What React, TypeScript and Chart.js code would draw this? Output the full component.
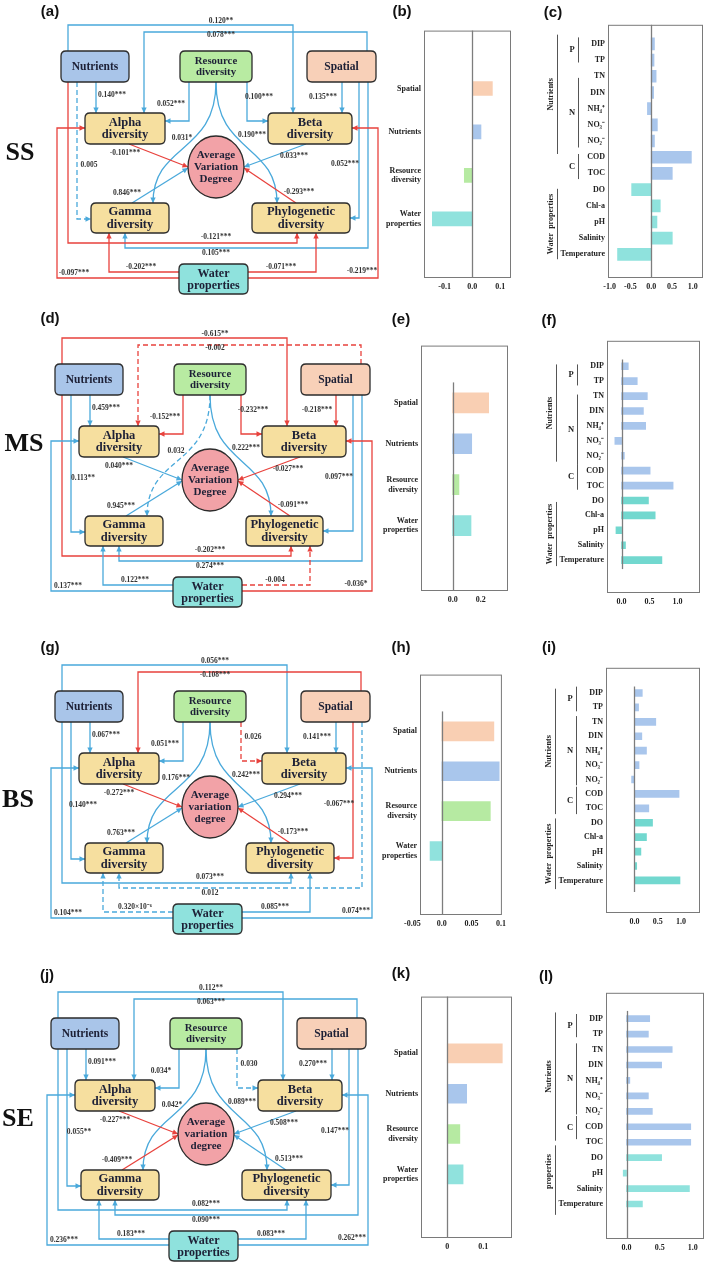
import React, { useEffect, useRef } from 'react';
import { Chart, registerables } from 'chart.js';

Chart.register(...registerables);

const SERIF = '"Liberation Serif", "Times New Roman", serif';
const SANS = '"Liberation Sans", Arial, sans-serif';
const BLUE = '#4aa9db';
const RED = '#e8423d';

// ---------------- Data: driver importance (b, e, h, k) ----------------
const DRIVERS = [['Spatial'], ['Nutrients'], ['Resource', 'diversity'], ['Water', 'properties']];
const DRIVER_COLORS = ['#f9cfb3', '#a9c6ec', '#b6eaa2', '#90e2dd'];
const SS_DRIVER = [0.072, 0.031, -0.029, -0.144];
const MS_DRIVER = [0.257, 0.136, 0.045, 0.131];
const BS_DRIVER = [0.088, 0.097, 0.082, -0.02];
const SE_DRIVER = [0.153, 0.054, 0.035, 0.044];
const SS_DRIVER_TICKS = [-0.1, 0, 0.1];
const SS_DRIVER_TICK_LABELS = ['-0.1', '0.0', '0.1'];
const MS_DRIVER_TICKS = [0, 0.2];
const MS_DRIVER_TICK_LABELS = ['0.0', '0.2'];
const BS_DRIVER_TICKS = [-0.05, 0, 0.05, 0.1];
const BS_DRIVER_TICK_LABELS = ['-0.05', '0.0', '0.05', '0.1'];
const SE_DRIVER_TICKS = [0, 0.1];
const SE_DRIVER_TICK_LABELS = ['0', '0.1'];

// ---------------- Data: environmental factors (c, f, i, l) ----------------
const FACTORS = ['DIP', 'TP', 'TN', 'DIN', 'NH₄⁺', 'NO₃⁻', 'NO₂⁻', 'COD', 'TOC', 'DO', 'Chl-a', 'pH', 'Salinity', 'Temperature'];
const FACTORS_SE = ['DIP', 'TP', 'TN', 'DIN', 'NH₄⁺', 'NO₃⁻', 'NO₂⁻', 'COD', 'TOC', 'DO', 'pH', 'Salinity', 'Temperature'];
const SS_FACTOR = [0.08, 0.07, 0.12, 0.06, -0.09, 0.15, 0.08, 0.97, 0.51, -0.47, 0.22, 0.14, 0.51, -0.81];
const MS_FACTOR = [0.12, 0.28, 0.46, 0.39, 0.43, -0.12, 0.05, 0.51, 0.92, 0.48, 0.6, -0.1, 0.07, 0.72];
const BS_FACTOR = [0.17, 0.09, 0.46, 0.16, 0.26, 0.1, -0.06, 0.96, 0.31, 0.39, 0.26, 0.14, 0.05, 0.98];
const SE_FACTOR = [0.35, 0.33, 0.69, 0.53, 0.05, 0.33, 0.39, 0.97, 0.97, 0.53, -0.05, 0.95, 0.24];
const FACTOR_TICKS_WIDE = [-1, -0.5, 0, 0.5, 1];
const FACTOR_TICK_LABELS_WIDE = ['-1.0', '-0.5', '0.0', '0.5', '1.0'];
const FACTOR_TICKS = [0, 0.5, 1];
const FACTOR_TICK_LABELS = ['0.0', '0.5', '1.0'];

// ---------------- Data: path coefficients (a, d, g, j) ----------------
const PATH_KEYS = ['NB', 'SA', 'NA', 'NG', 'RA', 'RB', 'RG', 'RP', 'AV', 'BV', 'GV', 'PV', 'SB', 'SP', 'SG', 'NP', 'WA', 'WG', 'WP', 'WB'];
const SS_COEF = ['0.120**', '0.078***', '0.140***', '0.005', '0.052***', '0.100***', '0.031*', '0.190***', '-0.101***', '0.033***', '0.846***', '-0.293***', '0.135***', '0.052***', '0.105***', '-0.121***', '-0.097***', '-0.202***', '-0.071***', '-0.219***'];
const SS_COLOR = ['b', 'b', 'b', 'b', 'b', 'b', 'b', 'b', 'r', 'b', 'b', 'r', 'b', 'b', 'b', 'r', 'r', 'r', 'r', 'r'];
const SS_DASHED = [0, 0, 0, 1, 0, 0, 0, 0, 0, 0, 0, 0, 0, 0, 0, 0, 0, 0, 0, 0];
const MS_COEF = ['-0.615**', '-0.002', '0.459***', '0.113**', '-0.152***', '-0.232***', '0.032', '0.222***', '0.040***', '-0.027***', '0.945***', '-0.091***', '-0.218***', '0.097***', '0.274***', '-0.202***', '0.137***', '0.122***', '-0.004', '-0.036*'];
const MS_COLOR = ['r', 'r', 'b', 'b', 'r', 'r', 'b', 'b', 'b', 'r', 'b', 'r', 'r', 'b', 'b', 'r', 'b', 'b', 'r', 'r'];
const MS_DASHED = [0, 1, 0, 0, 0, 0, 1, 0, 0, 0, 0, 0, 0, 0, 0, 0, 0, 0, 1, 0];
const BS_COEF = ['0.056***', '-0.108***', '0.067***', '0.140***', '0.051***', '0.026', '0.176***', '0.242***', '-0.272***', '0.294***', '0.763***', '-0.173***', '0.141***', '-0.067***', '0.012', '0.073***', '0.104***', '0.320×10⁻⁶', '0.085***', '0.074***'];
const BS_COLOR = ['b', 'r', 'b', 'b', 'b', 'r', 'b', 'b', 'r', 'b', 'b', 'r', 'b', 'r', 'b', 'b', 'b', 'b', 'b', 'b'];
const BS_DASHED = [0, 0, 0, 0, 0, 1, 0, 0, 0, 0, 0, 0, 0, 0, 1, 0, 0, 1, 0, 0];
const SE_COEF = ['0.112**', '0.063***', '0.091***', '0.055**', '0.034*', '0.030', '0.042*', '0.089***', '-0.227***', '0.508***', '-0.409***', '0.513***', '0.270***', '0.147***', '0.090***', '0.082***', '0.236***', '0.183***', '0.083***', '0.262***'];
const SE_COLOR = ['b', 'b', 'b', 'b', 'b', 'b', 'b', 'b', 'r', 'b', 'r', 'b', 'b', 'b', 'b', 'b', 'b', 'b', 'b', 'b'];
const SE_DASHED = [0, 0, 0, 0, 0, 1, 0, 0, 0, 0, 0, 0, 0, 0, 0, 0, 0, 0, 0, 0];

// ---------------- Layout of the path diagrams (relative to Nutrients box) ----------------
const makeRoutes = (pr: number): any => ({
  NB: { pts: [[7, 0], [7, -26], [232, -26], [232, 62]] },
  SA: { pts: [[306, 0], [306, -19], [83, -19], [83, 62]] },
  NA: { pts: [[35, 31], [35, 62]] },
  NG: { pts: [[16, 31], [16, 168], [30, 168]] },
  RA: { pts: [[128, 31], [128, 70], [104, 70]] },
  RB: { pts: [[186, 31], [186, 70], [207, 70]] },
  RG: { curve: [[155, 31], [92, 152]] },
  RP: { curve: [[155, 31], [216, 152]] },
  AV: { pts: [[68, 93], [127, 116]] },
  BV: { pts: [[245, 93], [183, 116]] },
  GV: { pts: [[71, 152], [127, 117]] },
  PV: { pts: [[235, 152], [183, 117]] },
  SB: { pts: [[281, 31], [281, 62]] },
  SP: { pts: [[298, 31], [298, 167], [pr, 167]] },
  SG: { pts: [[307, 31], [307, 197], [64, 197], [64, 182]] },
  NP: { pts: [[7, 31], [7, 192], [236, 192], [236, 182]] },
  WA: { pts: [[118, 227], [-4, 227], [-4, 77], [24, 77]] },
  WG: { pts: [[118, 221], [48, 221], [48, 182]] },
  WP: { pts: [[187, 221], [255, 221], [255, 182]] },
  WB: { pts: [[187, 227], [317, 227], [317, 77], [291, 77]] },
});
const LABEL_POS: any = {
  NB: [160, -30], SA: [160, -16], NA: [51, 44], NG: [28, 114], RA: [110, 53], RB: [198, 46],
  RG: [121, 87], RP: [191, 84], AV: [64, 102], BV: [233, 105], GV: [66, 142], PV: [238, 141],
  SB: [262, 46], SP: [284, 113], SG: [155, 202], NP: [155, 186], WA: [13, 222], WG: [80, 216],
  WP: [220, 216], WB: [301, 220],
};

const DIAGRAMS = [
  { top: 0, height: 310, ox: 61, oy: 51, phyloW: 98, coef: SS_COEF, color: SS_COLOR, dashed: SS_DASHED, avd: ['Average', 'Variation', 'Degree'] },
  { top: 310, height: 310, ox: 55, oy: 364, phyloW: 77, coef: MS_COEF, color: MS_COLOR, dashed: MS_DASHED, avd: ['Average', 'Variation', 'Degree'] },
  { top: 620, height: 320, ox: 55, oy: 691, phyloW: 88, coef: BS_COEF, color: BS_COLOR, dashed: BS_DASHED, avd: ['Average', 'variation', 'degree'] },
  { top: 940, height: 323, ox: 51, oy: 1018, phyloW: 89, coef: SE_COEF, color: SE_COLOR, dashed: SE_DASHED, avd: ['Average', 'variation', 'degree'] },
];

function roundRect(ctx: any, x: number, y: number, w: number, h: number, r: number) {
  ctx.beginPath();
  ctx.moveTo(x + r, y);
  ctx.lineTo(x + w - r, y);
  ctx.quadraticCurveTo(x + w, y, x + w, y + r);
  ctx.lineTo(x + w, y + h - r);
  ctx.quadraticCurveTo(x + w, y + h, x + w - r, y + h);
  ctx.lineTo(x + r, y + h);
  ctx.quadraticCurveTo(x, y + h, x, y + h - r);
  ctx.lineTo(x, y + r);
  ctx.quadraticCurveTo(x, y, x + r, y);
  ctx.closePath();
}

function arrowHead(ctx: any, fx: number, fy: number, tx: number, ty: number) {
  const ang = Math.atan2(ty - fy, tx - fx);
  const len = 5.5, w = 2.7;
  const c = Math.cos(ang), s = Math.sin(ang);
  ctx.beginPath();
  ctx.moveTo(tx, ty);
  ctx.lineTo(tx - len * c + w * s, ty - len * s - w * c);
  ctx.lineTo(tx - len * c - w * s, ty - len * s + w * c);
  ctx.closePath();
  ctx.fill();
}

function diagramPlugin(d: any) {
  return {
    id: 'pathDiagram',
    afterDraw(chart: any) {
      const ctx = chart.ctx;
      const sx = chart.scales.x, sy = chart.scales.y;
      const X = (v: number) => sx.getPixelForValue(d.ox + v);
      const Y = (v: number) => sy.getPixelForValue(d.oy + v);
      const routes = makeRoutes(191 + d.phyloW);
      ctx.save();
      // edges
      PATH_KEYS.forEach((k, i) => {
        const col = d.color[i] === 'r' ? RED : BLUE;
        ctx.strokeStyle = col;
        ctx.fillStyle = col;
        ctx.lineWidth = 1.3;
        ctx.setLineDash(d.dashed[i] ? [5, 3] : []);
        const r = routes[k];
        let fx = 0, fy = 0, tx = 0, ty = 0;
        ctx.beginPath();
        if (r.curve) {
          const [s, e] = r.curve;
          const dy = e[1] - s[1];
          const c1 = [s[0], s[1] + 0.6 * dy];
          const c2 = [e[0], e[1] - 0.5 * dy];
          ctx.moveTo(X(s[0]), Y(s[1]));
          ctx.bezierCurveTo(X(c1[0]), Y(c1[1]), X(c2[0]), Y(c2[1]), X(e[0]), Y(e[1]));
          fx = X(c2[0]); fy = Y(c2[1]); tx = X(e[0]); ty = Y(e[1]);
        } else {
          const pts = r.pts;
          pts.forEach((p: number[], j: number) => {
            if (j === 0) ctx.moveTo(X(p[0]), Y(p[1]));
            else ctx.lineTo(X(p[0]), Y(p[1]));
          });
          const a = pts[pts.length - 2], b = pts[pts.length - 1];
          fx = X(a[0]); fy = Y(a[1]); tx = X(b[0]); ty = Y(b[1]);
        }
        ctx.stroke();
        ctx.setLineDash([]);
        arrowHead(ctx, fx, fy, tx, ty);
      });
      // nodes
      const nodes = [
        { box: [0, 0, 68, 31], fill: '#a9c5e9', lines: ['Nutrients'], size: 11.5 },
        { box: [119, 0, 72, 31], fill: '#b8eba2', lines: ['Resource', 'diversity'], size: 10.8 },
        { box: [246, 0, 69, 31], fill: '#f8d0b8', lines: ['Spatial'], size: 11.5 },
        { box: [24, 62, 80, 31], fill: '#f6df9f', lines: ['Alpha', 'diversity'], size: 12.5 },
        { box: [207, 62, 84, 31], fill: '#f6df9f', lines: ['Beta', 'diversity'], size: 12.5 },
        { box: [30, 152, 78, 30], fill: '#f6df9f', lines: ['Gamma', 'diversity'], size: 12.5 },
        { box: [191, 152, d.phyloW, 30], fill: '#f6df9f', lines: ['Phylogenetic', 'diversity'], size: 12.5 },
        { box: [118, 213, 69, 30], fill: '#8fe2dd', lines: ['Water', 'properties'], size: 12 },
      ];
      ctx.textAlign = 'center';
      ctx.textBaseline = 'middle';
      nodes.forEach((n) => {
        const [bx, by, bw, bh] = n.box;
        roundRect(ctx, X(bx), Y(by), bw, bh, 5);
        ctx.fillStyle = n.fill;
        ctx.fill();
        ctx.strokeStyle = '#2b2b2b';
        ctx.lineWidth = 1.3;
        ctx.stroke();
        ctx.fillStyle = '#1d2036';
        ctx.font = `bold ${n.size}px ${SERIF}`;
        const lh = n.size * 1.0;
        const cx = X(bx + bw / 2), cy = Y(by + bh / 2);
        n.lines.forEach((l, j) => ctx.fillText(l, cx, cy + (j - (n.lines.length - 1) / 2) * lh + 0.5));
      });
      // AVD ellipse
      ctx.beginPath();
      ctx.ellipse(X(155), Y(116), 28, 31, 0, 0, Math.PI * 2);
      ctx.fillStyle = '#f2a2a7';
      ctx.fill();
      ctx.strokeStyle = '#2b2b2b';
      ctx.lineWidth = 1.3;
      ctx.stroke();
      ctx.fillStyle = '#1d2036';
      ctx.font = `bold 11px ${SERIF}`;
      d.avd.forEach((l: string, j: number) => ctx.fillText(l, X(155), Y(116) + (j - 1) * 12 + 0.5));
      // coefficient labels
      ctx.font = `bold 7.5px ${SERIF}`;
      ctx.fillStyle = '#333';
      PATH_KEYS.forEach((k, i) => {
        const p = LABEL_POS[k];
        ctx.fillText(d.coef[i], X(p[0]), Y(p[1]));
      });
      ctx.restore();
    },
  };
}

function diagramConfig(d: any) {
  return {
    type: 'scatter',
    data: { datasets: [{ data: [] }] },
    options: {
      animation: false,
      responsive: false,
      layout: { padding: 0 },
      plugins: { legend: { display: false }, tooltip: { enabled: false } },
      scales: {
        x: { type: 'linear', display: false, min: 0, max: 400 },
        y: { type: 'linear', display: false, min: d.top, max: d.top + d.height, reverse: true },
      },
    },
    plugins: [diagramPlugin(d)],
  };
}

// ---------------- Bar charts ----------------
const NUT_BLUE = '#a9c6ec';
const factorColors = (n: number, water: string) => Array.from({ length: n }, (_, i) => (i < 9 ? NUT_BLUE : water));

const BARS: any[] = [
  { labels: DRIVERS, values: SS_DRIVER, colors: DRIVER_COLORS, ticks: SS_DRIVER_TICKS, tickLabels: SS_DRIVER_TICK_LABELS,
    xMin: -0.174, xMax: 0.139, yMin: -0.62, yMax: 3.65, bar: 14, plot: [424, 22, 511, 278], canvasLeft: 380, zero: [-99, 99] },
  { labels: DRIVERS, values: MS_DRIVER, colors: DRIVER_COLORS, ticks: MS_DRIVER_TICKS, tickLabels: MS_DRIVER_TICK_LABELS,
    xMin: -0.226, xMax: 0.395, yMin: -0.65, yMax: 3.85, bar: 20, plot: [421, 337, 508, 591], canvasLeft: 380, zero: [-0.5, 99] },
  { labels: DRIVERS, values: BS_DRIVER, colors: DRIVER_COLORS, ticks: BS_DRIVER_TICKS, tickLabels: BS_DRIVER_TICK_LABELS,
    xMin: -0.037, xMax: 0.1016, yMin: -0.67, yMax: 3.85, bar: 19, plot: [420, 666, 507, 915], canvasLeft: 380, zero: [-0.5, 99] },
  { labels: DRIVERS, values: SE_DRIVER, colors: DRIVER_COLORS, ticks: SE_DRIVER_TICKS, tickLabels: SE_DRIVER_TICK_LABELS,
    xMin: -0.073, xMax: 0.18, yMin: -0.66, yMax: 3.83, bar: 19, plot: [421, 988, 512, 1238], canvasLeft: 380, zero: [-99, 99] },
  { labels: FACTORS, values: SS_FACTOR, colors: factorColors(14, '#8fe2dd'), ticks: FACTOR_TICKS_WIDE, tickLabels: FACTOR_TICK_LABELS_WIDE,
    xMin: -1.04, xMax: 1.25, yMin: -0.62, yMax: 13.9, bar: 12, plot: [608, 21, 703, 278], canvasLeft: 535, zero: [-99, 99],
    groups: { nutr: [-0.57, 6.8], water: [8.95, 13.3], P: [-0.4, 1.15], N: [2.1, 6.4], C: [6.8, 8.35], waterText: 'Water  properties' } },
  { labels: FACTORS, values: MS_FACTOR, colors: factorColors(14, '#72d8cf'), ticks: FACTOR_TICKS, tickLabels: FACTOR_TICK_LABELS,
    xMin: -0.26, xMax: 1.4, yMin: -1.1, yMax: 14.6, bar: 7, plot: [607, 337, 700, 593], canvasLeft: 535, zero: [-0.45, 13.6],
    groups: { nutr: [-0.12, 6.4], water: [9.1, 13.4], P: [-0.12, 1.29], N: [1.9, 6.56], C: [6.56, 8.28], waterText: 'Water  properties' } },
  { labels: FACTORS, values: BS_FACTOR, colors: factorColors(14, '#72d8cf'), ticks: FACTOR_TICKS, tickLabels: FACTOR_TICK_LABELS,
    xMin: -0.61, xMax: 1.41, yMin: -1.14, yMax: 14.65, bar: 7, plot: [606, 664, 700, 913], canvasLeft: 535, zero: [-0.45, 13.8],
    groups: { nutr: [-0.3, 8.4], water: [8.7, 13.6], P: [-0.44, 1.27], N: [1.6, 6.4], C: [6.5, 8.4], waterText: 'Water  properties' } },
  { labels: FACTORS_SE, values: SE_FACTOR, colors: factorColors(13, '#8fe2dd'), ticks: FACTOR_TICKS, tickLabels: FACTOR_TICK_LABELS,
    xMin: -0.31, xMax: 1.17, yMin: -1.06, yMax: 13.65, bar: 6, plot: [606, 989, 704, 1239], canvasLeft: 535, zero: [-0.5, 99],
    groups: { nutr: [-0.4, 7.9], water: [8.2, 12.7], P: [-0.3, 1.2], N: [1.6, 6.2], C: [6.3, 7.8], waterText: 'properties', waterTextAt: 9.9 } },
];

function barDecor(s: any) {
  return {
    id: 'barDecor',
    beforeDatasetsDraw(chart: any) {
      const { ctx, chartArea: a } = chart;
      ctx.save();
      ctx.strokeStyle = '#7a7a7a';
      ctx.lineWidth = 1;
      ctx.strokeRect(a.left + 0.5, a.top + 0.5, a.right - a.left - 1, a.bottom - a.top - 1);
      ctx.restore();
    },
    afterDatasetsDraw(chart: any) {
      const { ctx, chartArea: a, scales } = chart;
      ctx.save();
      const zx = Math.round(scales.x.getPixelForValue(0)) + 0.5;
      const y0 = Math.max(a.top, scales.y.getPixelForValue(s.zero[0]));
      const y1 = Math.min(a.bottom, scales.y.getPixelForValue(s.zero[1]));
      ctx.strokeStyle = '#7d7d7d';
      ctx.lineWidth = 1.3;
      ctx.beginPath();
      ctx.moveTo(zx, y0);
      ctx.lineTo(zx, y1);
      ctx.stroke();
      const g = s.groups;
      if (g) {
        const Yp = (v: number) => scales.y.getPixelForValue(v);
        const L = a.left;
        const vline = (x: number, r: number[]) => {
          ctx.beginPath();
          ctx.moveTo(x + 0.5, Yp(r[0]));
          ctx.lineTo(x + 0.5, Yp(r[1]));
          ctx.stroke();
        };
        ctx.strokeStyle = '#555';
        ctx.lineWidth = 1;
        vline(L - 51, g.nutr);
        vline(L - 51, g.water);
        vline(L - 30, g.P);
        vline(L - 30, g.N);
        vline(L - 30, g.C);
        ctx.fillStyle = '#222';
        ctx.textAlign = 'center';
        ctx.textBaseline = 'middle';
        ctx.font = `bold 8.5px ${SERIF}`;
        ctx.fillText('P', L - 36, Yp((g.P[0] + g.P[1]) / 2));
        ctx.fillText('N', L - 36, Yp((g.N[0] + g.N[1]) / 2));
        ctx.fillText('C', L - 36, Yp((g.C[0] + g.C[1]) / 2));
        ctx.font = `bold 8px ${SERIF}`;
        const rot = (t: string, y: number) => {
          ctx.save();
          ctx.translate(L - 57, y);
          ctx.rotate(-Math.PI / 2);
          ctx.fillText(t, 0, 0);
          ctx.restore();
        };
        rot('Nutrients', Yp((g.nutr[0] + g.nutr[1]) / 2));
        rot(g.waterText, Yp(g.waterTextAt ?? (g.water[0] + g.water[1]) / 2));
      }
      ctx.restore();
    },
  };
}

function barConfig(s: any) {
  const L = s.plot[0] - s.canvasLeft;
  const tickFont = { family: SERIF, size: 8, weight: 'bold' };
  return {
    type: 'bar',
    data: {
      datasets: [{
        data: s.values.map((v: number, i: number) => ({ x: v, y: i })),
        backgroundColor: s.colors,
        borderWidth: 0,
        barThickness: s.bar,
      }],
    },
    options: {
      indexAxis: 'y',
      animation: false,
      responsive: false,
      layout: { padding: { top: 4, right: 3, left: 0, bottom: 0 } },
      plugins: { legend: { display: false }, tooltip: { enabled: false } },
      scales: {
        x: {
          type: 'linear', min: s.xMin, max: s.xMax,
          grid: { display: false, drawTicks: false }, border: { display: false },
          afterBuildTicks: (sc: any) => { sc.ticks = s.ticks.map((v: number) => ({ value: v })); },
          afterFit: (sc: any) => { sc.height = 18; },
          ticks: { autoSkip: false, maxRotation: 0, padding: 4, color: '#222', font: tickFont,
            callback: (_v: any, i: number) => s.tickLabels[i] },
        },
        y: {
          type: 'linear', reverse: true, min: s.yMin, max: s.yMax,
          grid: { display: false, drawTicks: false }, border: { display: false },
          afterBuildTicks: (sc: any) => { sc.ticks = s.labels.map((_l: any, i: number) => ({ value: i })); },
          afterFit: (sc: any) => { sc.width = L; },
          ticks: { autoSkip: false, padding: 3, color: '#222', font: tickFont,
            callback: (v: any) => s.labels[v] ?? '' },
        },
      },
    },
    plugins: [barDecor(s)],
  };
}

function ChartCanvas({ left, top, width, height, build }: any) {
  const ref = useRef<HTMLCanvasElement>(null);
  useEffect(() => {
    const chart = new Chart(ref.current as any, build());
    return () => chart.destroy();
  }, []);
  return (
    <canvas ref={ref} width={width} height={height}
      style={{ position: 'absolute', left, top, width, height }} />
  );
}

const PANEL_TAGS: [string, number, number][] = [
  ['(a)', 50, 10], ['(b)', 402, 10], ['(c)', 553, 11],
  ['(d)', 50, 317], ['(e)', 401, 318], ['(f)', 549, 319],
  ['(g)', 50, 646], ['(h)', 401, 646], ['(i)', 549, 646],
  ['(j)', 47, 974], ['(k)', 401, 972], ['(l)', 546, 975],
];
const ROW_TAGS: [string, number, number][] = [['SS', 20, 152], ['MS', 24, 443], ['BS', 18, 799], ['SE', 18, 1118]];

export default function App() {
  return (
    <div style={{ position: 'absolute', left: 0, top: 0, width: 709, height: 1263, background: '#fff', overflow: 'hidden' }}>
      {DIAGRAMS.map((d, i) => (
        <ChartCanvas key={'d' + i} left={0} top={d.top} width={400} height={d.height} build={() => diagramConfig(d)} />
      ))}
      {BARS.map((s, i) => {
        const top = s.plot[1] - 4;
        const width = s.plot[2] + 3 - s.canvasLeft;
        const height = s.plot[3] + 18 - top;
        return <ChartCanvas key={'b' + i} left={s.canvasLeft} top={top} width={width} height={height} build={() => barConfig(s)} />;
      })}
      {PANEL_TAGS.map(([t, x, y]) => (
        <div key={t} style={{ position: 'absolute', left: x, top: y, transform: 'translate(-50%, -50%)', font: `bold 15px ${SANS}`, lineHeight: 1, whiteSpace: 'nowrap', color: '#111' }}>{t}</div>
      ))}
      {ROW_TAGS.map(([t, x, y]) => (
        <div key={t} style={{ position: 'absolute', left: x, top: y, transform: 'translate(-50%, -50%)', font: `bold 26px ${SERIF}`, lineHeight: 1, whiteSpace: 'nowrap', color: '#111' }}>{t}</div>
      ))}
    </div>
  );
}
